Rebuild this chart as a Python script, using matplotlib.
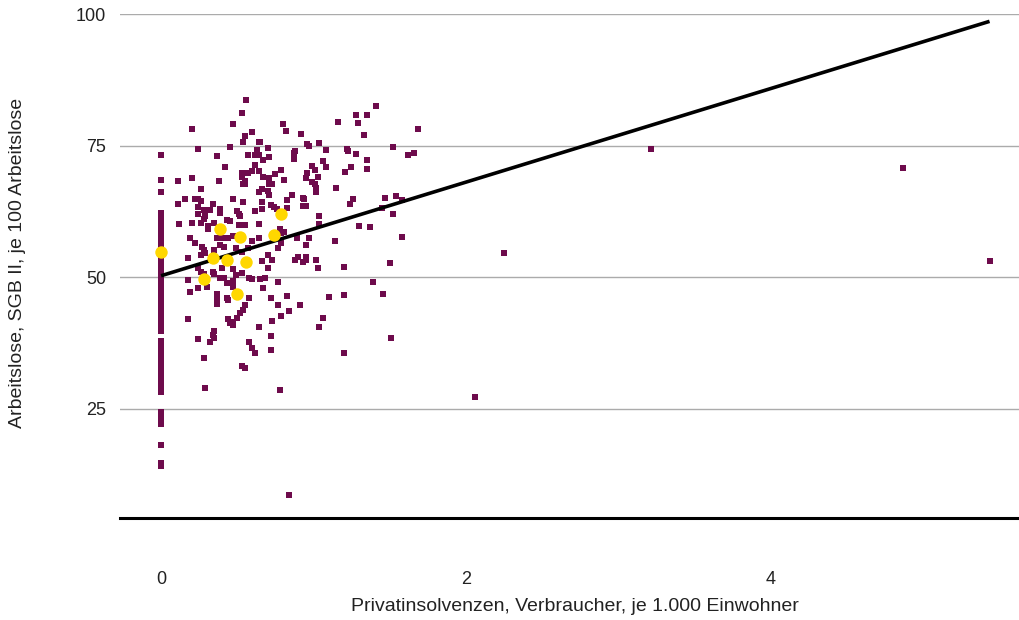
import numpy as np
import matplotlib.pyplot as plt

plt.rcParams['font.family'] = ['Liberation Sans', 'DejaVu Sans']

# Kreise / Landkreise (lila), Auswahl (gelb)
x_kreise = [
    0.56, 0.53, 0.47, 0.20, 0.80, 0.82, 0.60, 0.92, 0.55, 0.54, 0.64, 0.65, 0.24, 0.45, 0.63, 0.70,
    0.88, 0.87, 0.37, 0.57, 0.62, 0.64, 0.67, 0.71, 0.87, 0.42, 0.62, 0.53, 0.57, 0.60, 0.64, 0.79,
    0.75, 0.67, 0.71, 0.81, 0.53, 0.55, 0.55, 0.54, 0.11, 0.20, 0.38, 0.71, 0.73, 0.26, 0.66, 0.64,
    0.70, 0.71, 0.86, 0.16, 0.22, 0.24, 0.26, 0.47, 0.54, 0.66, 0.83, 0.93, 0.11, 0.34, 0.24, 0.28,
    0.32, 0.39, 0.50, 0.51, 0.62, 0.66, 0.72, 0.74, 0.76, 0.83, 0.93, 0.39, 0.24, 0.29, 0.28, 0.52,
    0.43, 0.45, 0.12, 0.20, 0.26, 0.31, 0.35, 0.51, 0.55, 0.64, 0.78,
    1.41, 1.28, 1.35, 1.16, 1.29, 1.33, 1.69, 0.96, 0.97, 1.04, 1.08, 1.22, 1.23, 1.28, 1.52, 1.62,
    1.66, 1.06, 1.08, 1.35, 1.35, 0.99, 1.01, 0.96, 0.95, 1.25, 1.21, 1.03, 0.99, 1.01, 1.02, 1.02,
    1.15, 0.94, 0.95, 1.26, 1.24, 1.47, 1.54, 1.58, 1.45, 1.52, 1.04, 1.04, 1.30, 1.37,
    0.19, 0.22, 0.31, 0.37, 0.40, 0.44, 0.47, 0.39, 0.41, 0.60, 0.64, 0.79, 0.81, 0.27, 0.28, 0.29,
    0.26, 0.18, 0.35, 0.49, 0.57, 0.53, 0.66, 0.70, 0.73, 0.70, 0.77, 0.79, 0.89, 0.88, 0.90, 0.93,
    0.40, 0.47, 0.53, 0.24, 0.26, 0.28, 0.34, 0.35, 0.18, 0.19, 0.24, 0.30, 0.39, 0.41, 0.43, 0.47,
    0.47, 0.49, 0.58, 0.60, 0.65, 0.68, 0.77, 0.67, 0.37, 0.37, 0.37, 0.43, 0.44, 0.55, 0.58, 0.72,
    0.83, 0.91, 0.77, 0.54, 0.52, 0.50, 0.47, 0.47, 0.44, 0.79, 0.84, 0.73, 0.18, 0.45, 0.64, 0.35,
    0.34, 0.35, 0.32, 0.72, 0.24, 0.58, 0.60, 0.62, 0.72, 0.28, 0.53, 0.55,
    0.97, 0.95, 0.95, 0.95, 1.02, 1.03, 1.14, 1.58, 1.20, 1.50, 1.39, 1.10, 1.20, 1.46, 1.06, 1.04,
    1.51, 1.20, 0.29, 0.78, 0.84,
    2.06, 2.25, 3.22, 4.87, 5.44,
]
y_kreise = [
    83.7, 81.2, 79.1, 78.2, 79.1, 77.8, 77.6, 77.2, 76.8, 75.7, 75.7, 75.7, 74.4, 74.8, 74.2, 74.6,
    74.0, 73.6, 73.0, 73.2, 73.2, 73.2, 72.3, 72.9, 72.5, 71.0, 71.3, 69.8, 69.8, 70.2, 70.2, 70.4,
    69.6, 69.1, 68.9, 68.5, 69.1, 68.3, 67.7, 67.7, 68.3, 68.9, 68.3, 67.7, 67.7, 66.8, 66.8, 66.2,
    66.4, 65.6, 65.6, 64.9, 64.9, 64.9, 64.5, 64.9, 64.3, 64.3, 64.7, 65.1, 63.9, 63.9, 63.4, 62.8,
    62.8, 63.0, 62.6, 62.0, 62.6, 63.0, 63.7, 63.4, 63.0, 63.2, 63.6, 62.2, 62.0, 61.7, 61.1, 61.7,
    60.9, 60.7, 60.1, 60.3, 60.3, 59.8, 60.3, 60.0, 60.0, 60.1, 59.2,
    82.5, 80.8, 80.8, 79.5, 79.3, 77.0, 78.2, 75.3, 74.9, 75.5, 74.2, 74.4, 74.0, 73.4, 74.8, 73.2,
    73.6, 72.1, 71.0, 72.3, 70.6, 71.2, 70.4, 69.8, 68.9, 71.0, 70.0, 69.1, 68.1, 67.7, 67.0, 66.2,
    67.0, 64.9, 63.6, 64.9, 63.9, 65.1, 65.5, 64.7, 63.2, 62.0, 61.7, 60.1, 59.8, 59.6,
    57.5, 56.5, 59.2, 57.5, 57.5, 57.5, 57.9, 56.2, 55.8, 56.9, 57.5, 58.4, 58.6, 55.8, 55.2, 54.6,
    54.3, 53.7, 55.2, 55.6, 55.6, 54.8, 53.1, 54.3, 53.3, 51.8, 55.6, 56.5, 57.5, 53.3, 53.9, 52.9,
    51.8, 51.6, 50.8, 51.8, 51.0, 50.7, 51.0, 50.7, 49.5, 47.2, 48.0, 48.2, 49.9, 49.9, 48.9, 48.2,
    49.3, 50.5, 49.9, 49.7, 49.7, 49.9, 49.1, 48.0, 46.9, 46.1, 45.0, 46.1, 45.7, 44.8, 46.1, 46.1,
    46.5, 44.8, 44.8, 43.8, 43.2, 42.3, 41.5, 41.0, 42.1, 42.7, 43.6, 41.7, 42.1, 41.4, 40.6, 39.8,
    39.1, 38.5, 37.7, 38.9, 38.3, 37.7, 36.6, 35.7, 36.2, 34.7, 33.2, 32.8,
    57.5, 56.2, 53.9, 53.3, 53.3, 51.8, 56.9, 57.7, 52.0, 52.7, 49.1, 46.3, 46.7, 46.9, 42.3, 40.6,
    38.5, 35.7, 29.0, 28.6, 8.7,
    27.3, 54.6, 74.4, 70.7, 53.1,
]

# Kreise ohne Privatinsolvenzen (x = 0)
y_null = [
    73.2, 68.5, 66.2, 62.2, 61.7, 61.2, 60.7, 60.2, 59.7, 59.2, 58.7, 58.2, 57.7, 57.2, 56.7, 56.2,
    55.7, 55.2, 54.7, 54.2, 53.7, 53.2, 52.7, 52.2, 51.7, 51.2, 50.7, 50.2, 49.7, 49.2, 48.7, 48.2,
    47.7, 47.2, 46.7, 46.2, 45.7, 45.2, 44.9, 43.9, 43.4, 42.9, 42.4, 41.9, 41.4, 40.9, 40.4, 39.9,
    37.9, 37.4, 36.9, 36.4, 35.9, 35.4, 34.9, 34.4, 33.6, 33.1, 32.6, 32.1, 31.6, 31.1, 30.6, 30.1,
    29.6, 29.1, 28.6, 28.2, 24.5, 23.7, 22.9, 22.1, 18.2, 14.8, 14.2,
]

x_auswahl = [0.00, 0.39, 0.52, 0.74, 0.79, 0.34, 0.43, 0.56, 0.28, 0.50]
y_auswahl = [54.8, 59.2, 57.7, 58.1, 62.0, 53.7, 53.3, 52.9, 49.7, 46.9]

# Trendlinie
fit_intercept = 50.3
fit_slope = 8.88

fig = plt.figure(figsize=(10.2, 6.2), dpi=100)
ax = fig.add_axes([0.1176, 0.1645, 0.8824, 0.8129])

lila = '#6e0b4c'
ax.scatter(x_kreise, y_kreise, s=14, marker='s', color=lila, linewidths=0, zorder=2)
ax.scatter(np.zeros(len(y_null)), y_null, s=16, marker='s', color=lila, linewidths=0, zorder=2)

xs = np.array([0, max(x_kreise)])
ax.plot(xs, fit_intercept + fit_slope * xs, color='black', lw=2.6, zorder=3, solid_capstyle='butt')

ax.scatter(x_auswahl, y_auswahl, s=80, color='#ffd700', linewidths=0, zorder=4)

ax.set_xlim(-0.27, 5.64)
ax.set_ylim(4.3, 100)
ax.set_yticks([25, 50, 75, 100])
ax.set_xticks([0, 2, 4])
ax.grid(axis='y', color='#ababab', lw=1)
ax.set_axisbelow(True)
for s in ['top', 'right', 'left']:
    ax.spines[s].set_visible(False)
ax.spines['bottom'].set_linewidth(2.2)
ax.tick_params(axis='both', length=0, labelsize=13, colors='#222222')
ax.tick_params(axis='y', pad=10)
ax.tick_params(axis='x', pad=38)

fig.text(0.5637, 0.021, 'Privatinsolvenzen, Verbraucher, je 1.000 Einwohner',
         ha='center', va='center', fontsize=14, color='#222222')
fig.text(0.0176, 0.5758, 'Arbeitslose, SGB II, je 100 Arbeitslose', rotation=90,
         ha='center', va='center', fontsize=14, color='#222222')

fig.savefig('out.png', dpi=100)
